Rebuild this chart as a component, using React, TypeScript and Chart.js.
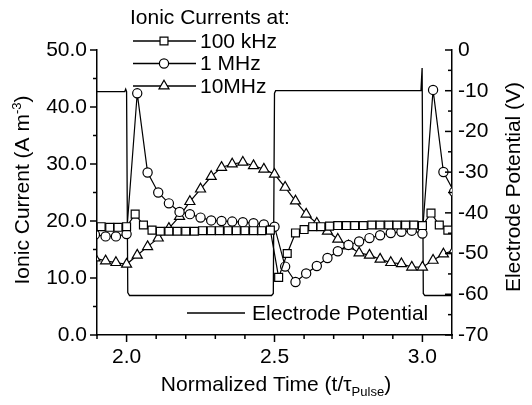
import React, { useEffect, useRef } from "react";
import { Chart, registerables } from "chart.js";

Chart.register(...registerables);

const FONT_FAMILY = "'Liberation Sans', Arial, Helvetica, sans-serif";
const FS = 21;

// ---- Data ----
// 100 kHz (squares): time and ionic current (A m^-3)
const t100kHz = [
  1.914, 1.943, 1.971, 2.0, 2.029, 2.057, 2.086, 2.114, 2.143, 2.171, 2.2, 2.229,
  2.257, 2.286, 2.314, 2.343, 2.371, 2.4, 2.429, 2.457, 2.486, 2.514, 2.543, 2.571,
  2.6, 2.629, 2.657, 2.686, 2.714, 2.743, 2.771, 2.8, 2.829, 2.857, 2.886, 2.914,
  2.943, 2.971, 3.0, 3.029, 3.057, 3.086,
];
const i100kHz = [
  19.0, 18.9, 18.9, 19.0, 21.2, 19.3, 18.4, 18.2, 18.2, 18.2, 18.2, 18.2, 18.3, 18.3,
  18.3, 18.3, 18.3, 18.3, 18.3, 18.3, 18.4, 10.1, 14.3, 17.9, 18.5, 19.0, 19.0, 19.1,
  19.2, 19.2, 19.2, 19.2, 19.3, 19.3, 19.3, 19.3, 19.3, 19.3, 19.2, 21.4, 19.3, 18.4,
];
// 1 MHz (circles) and 10 MHz (triangles) share a time base
const tMHz = [
  1.893, 1.929, 1.964, 2.0, 2.036, 2.071, 2.107, 2.143, 2.179, 2.214, 2.25, 2.286,
  2.321, 2.357, 2.393, 2.429, 2.464, 2.5, 2.536, 2.571, 2.607, 2.643, 2.679, 2.714,
  2.75, 2.786, 2.821, 2.857, 2.893, 2.929, 2.964, 3.0, 3.036, 3.071, 3.107,
];
const i1MHz = [
  17.6, 17.3, 17.3, 17.7, 42.4, 28.5, 25.0, 23.1, 21.6, 21.2, 20.6, 20.1, 20.0, 19.9,
  19.8, 19.6, 19.4, 19.0, 12.0, 9.3, 10.8, 12.1, 13.5, 14.7, 15.8, 16.4, 17.0, 17.5,
  17.9, 18.1, 18.3, 17.8, 43.0, 28.6, 25.1,
];
const i10MHz = [
  13.5, 13.0, 12.7, 12.4, 14.0, 15.5, 17.0, 18.7, 20.8, 23.4, 25.6, 27.8, 29.4, 30.0,
  30.3, 29.7, 29.1, 28.2, 25.9, 23.5, 21.2, 19.6, 18.2, 16.8, 15.6, 14.4, 14.0, 13.3,
  12.7, 12.5, 11.9, 11.9, 13.1, 14.2, 14.9,
];
// Electrode potential (V)
const tElectrode = [
  1.9, 1.994, 1.997, 2.0, 2.004, 2.01, 2.49, 2.496, 2.5, 2.504, 2.995, 2.999, 3.003,
  3.008, 3.1,
];
const vElectrode = [
  -10.2, -10.2, -9.6, -10.2, -59.6, -60.3, -60.3, -59.8, -10.6, -10.0, -10.0, -4.4,
  -59.8, -60.3, -60.3,
];

// ---- Axes ----
const xTickValues = [2.0, 2.5, 3.0];
const xTickLabels = ["2.0", "2.5", "3.0"];
const xMinorValues = [1.9, 2.1, 2.2, 2.3, 2.4, 2.6, 2.7, 2.8, 2.9, 3.1];
const yTickValues = [0, 10, 20, 30, 40, 50];
const yTickLabels = ["0.0", "10.0", "20.0", "30.0", "40.0", "50.0"];
const yMinorValues = [5, 15, 25, 35, 45];
const y2TickValues = [0, -10, -20, -30, -40, -50, -60, -70];
const y2TickLabels = ["0", "-10", "-20", "-30", "-40", "-50", "-60", "-70"];
const y2MinorValues = [-5, -15, -25, -35, -45, -55, -65];

const legendTitle = "Ionic Currents at:";
const seriesNames = ["100 kHz", "1 MHz", "10MHz"];
const seriesMarkers = ["rect", "circle", "triangle"];
const electrodeName = "Electrode Potential";

const markerRadius: Record<string, number> = { rect: 5.6, circle: 4.6, triangle: 5.8 };

function drawMarker(ctx: CanvasRenderingContext2D, style: string, x: number, y: number) {
  const r = markerRadius[style];
  ctx.beginPath();
  if (style === "rect") {
    const s = r * Math.SQRT1_2;
    ctx.rect(x - s, y - s, 2 * s, 2 * s);
  } else if (style === "circle") {
    ctx.arc(x, y, r, 0, Math.PI * 2);
  } else {
    const a = (2 * Math.PI) / 3;
    ctx.moveTo(x, y - r);
    ctx.lineTo(x + Math.sin(a) * r, y - Math.cos(a) * r);
    ctx.lineTo(x + Math.sin(2 * a) * r, y - Math.cos(2 * a) * r);
    ctx.closePath();
  }
  ctx.fillStyle = "#fff";
  ctx.fill();
  ctx.lineWidth = 1.2;
  ctx.strokeStyle = "#000";
  ctx.stroke();
}

type Part = { text: string; scale?: number; dy?: number };
function drawRich(ctx: CanvasRenderingContext2D, parts: Part[], x: number, y: number) {
  let total = 0;
  const widths = parts.map((p) => {
    ctx.font = `${FS * (p.scale || 1)}px ${FONT_FAMILY}`;
    const w = ctx.measureText(p.text).width;
    total += w;
    return w;
  });
  let cx = x - total / 2;
  ctx.textAlign = "left";
  ctx.textBaseline = "alphabetic";
  parts.forEach((p, i) => {
    ctx.font = `${FS * (p.scale || 1)}px ${FONT_FAMILY}`;
    ctx.fillText(p.text, cx, y + (p.dy || 0));
    cx += widths[i];
  });
}

const decorPlugin = {
  id: "decor",
  afterDraw(chart: any) {
    const ctx: CanvasRenderingContext2D = chart.ctx;
    const { x, y, y2 } = chart.scales;
    const area = chart.chartArea;
    ctx.save();
    ctx.strokeStyle = "#000";
    ctx.fillStyle = "#000";
    ctx.lineWidth = 1.5;
    // ticks
    const tick = (x1: number, y1: number, x2: number, y2p: number) => {
      ctx.beginPath();
      ctx.moveTo(x1, y1);
      ctx.lineTo(x2, y2p);
      ctx.stroke();
    };
    xTickValues.forEach((v) => {
      const px = x.getPixelForValue(v);
      tick(px, area.bottom, px, area.bottom + 7);
    });
    xMinorValues.forEach((v) => {
      const px = x.getPixelForValue(v);
      tick(px, area.bottom, px, area.bottom + 4);
    });
    yTickValues.forEach((v) => {
      const py = y.getPixelForValue(v);
      tick(area.left, py, area.left - 7, py);
    });
    yMinorValues.forEach((v) => {
      const py = y.getPixelForValue(v);
      tick(area.left, py, area.left - 4, py);
    });
    y2TickValues.forEach((v) => {
      const py = y2.getPixelForValue(v);
      tick(area.right, py, area.right - 7, py);
    });
    y2MinorValues.forEach((v) => {
      const py = y2.getPixelForValue(v);
      tick(area.right, py, area.right - 4, py);
    });

    // legend (ionic currents)
    ctx.font = `${FS}px ${FONT_FAMILY}`;
    ctx.textAlign = "left";
    ctx.textBaseline = "middle";
    ctx.fillText(legendTitle, 130, 18);
    const rows = [41, 63.5, 86];
    seriesNames.forEach((name, i) => {
      const ry = rows[i];
      ctx.lineWidth = 1.3;
      tick(133, ry, 196, ry);
      drawMarker(ctx, seriesMarkers[i], 164, ry);
      ctx.fillStyle = "#000";
      ctx.font = `${FS}px ${FONT_FAMILY}`;
      ctx.textBaseline = "middle";
      ctx.fillText(name, 200, ry + 1);
    });
    // legend (electrode)
    ctx.lineWidth = 1.3;
    tick(187, 313, 245, 313);
    ctx.fillText(electrodeName, 252, 314);

    // axis titles
    ctx.fillStyle = "#000";
    drawRich(
      ctx,
      [{ text: "Normalized Time (t/τ" }, { text: "Pulse", scale: 0.62, dy: 5 }, { text: ")" }],
      276,
      391
    );
    ctx.save();
    ctx.translate(29, 190);
    ctx.rotate(-Math.PI / 2);
    drawRich(ctx, [{ text: "Ionic Current (A m" }, { text: "-3", scale: 0.62, dy: -8 }, { text: ")" }], 0, 0);
    ctx.restore();
    ctx.save();
    ctx.translate(520, 187);
    ctx.rotate(-Math.PI / 2);
    drawRich(ctx, [{ text: "Electrode Potential (V)" }], 0, 0);
    ctx.restore();
    ctx.restore();
  },
};

const pts = (ts: number[], vs: number[]) => ts.map((t, i) => ({ x: t, y: vs[i] }));

export default function App() {
  const ref = useRef<HTMLCanvasElement | null>(null);
  useEffect(() => {
    if (!ref.current) return;
    const font = { family: FONT_FAMILY, size: FS };
    const chart = new Chart(ref.current, {
      type: "line",
      data: {
        datasets: [
          {
            label: seriesNames[0],
            data: pts(t100kHz, i100kHz),
            yAxisID: "y",
            borderColor: "#000",
            borderWidth: 1.2,
            pointStyle: "rect",
            pointRadius: markerRadius.rect,
            pointBorderWidth: 1.2,
            pointBackgroundColor: "#fff",
            pointBorderColor: "#000",
          },
          {
            label: seriesNames[1],
            data: pts(tMHz, i1MHz),
            yAxisID: "y",
            borderColor: "#000",
            borderWidth: 1.2,
            pointStyle: "circle",
            pointRadius: markerRadius.circle,
            pointBorderWidth: 1.2,
            pointBackgroundColor: "#fff",
            pointBorderColor: "#000",
          },
          {
            label: seriesNames[2],
            data: pts(tMHz, i10MHz),
            yAxisID: "y",
            borderColor: "#000",
            borderWidth: 1.2,
            pointStyle: "triangle",
            pointRadius: markerRadius.triangle,
            pointBorderWidth: 1.2,
            pointBackgroundColor: "#fff",
            pointBorderColor: "#000",
          },
          {
            label: electrodeName,
            data: pts(tElectrode, vElectrode),
            yAxisID: "y2",
            borderColor: "#000",
            borderWidth: 1.3,
            pointRadius: 0,
          },
        ],
      },
      options: {
        animation: false,
        responsive: false,
        devicePixelRatio: 1,
        layout: { padding: { top: 50, left: 0, right: 0, bottom: 0 } },
        plugins: { legend: { display: false }, tooltip: { enabled: false }, title: { display: false } },
        scales: {
          x: {
            type: "linear",
            min: 1.9,
            max: 3.1,
            afterBuildTicks: (s: any) => {
              s.ticks = xTickValues.map((v) => ({ value: v }));
            },
            afterFit: (s: any) => {
              s.height = 70;
            },
            ticks: {
              font,
              color: "#000",
              padding: 10,
              maxRotation: 0,
              autoSkip: false,
              callback: (v: any) => {
                const i = xTickValues.findIndex((t) => Math.abs(t - v) < 1e-6);
                return i >= 0 ? xTickLabels[i] : "";
              },
            },
            grid: { drawOnChartArea: false, drawTicks: false },
            border: { display: true, color: "#000", width: 1.5 },
          },
          y: {
            position: "left",
            min: 0,
            max: 50,
            afterBuildTicks: (s: any) => {
              s.ticks = yTickValues.map((v) => ({ value: v }));
            },
            afterFit: (s: any) => {
              s.width = 97;
            },
            ticks: {
              font,
              color: "#000",
              padding: 10,
              autoSkip: false,
              callback: (v: any) => {
                const i = yTickValues.indexOf(v);
                return i >= 0 ? yTickLabels[i] : "";
              },
            },
            grid: { drawOnChartArea: false, drawTicks: false },
            border: { display: true, color: "#000", width: 1.5 },
          },
          y2: {
            position: "right",
            min: -70,
            max: 0,
            afterBuildTicks: (s: any) => {
              s.ticks = y2TickValues.map((v) => ({ value: v }));
            },
            afterFit: (s: any) => {
              s.width = 80;
            },
            ticks: {
              font,
              color: "#000",
              padding: 6,
              autoSkip: false,
              callback: (v: any) => {
                const i = y2TickValues.indexOf(v);
                return i >= 0 ? y2TickLabels[i] : "";
              },
            },
            grid: { drawOnChartArea: false, drawTicks: false },
            border: { display: true, color: "#000", width: 1.5 },
          },
        },
      },
      plugins: [decorPlugin],
    } as any);
    return () => chart.destroy();
  }, []);
  return (
    <div style={{ position: "fixed", left: 0, top: 0, width: 532, height: 405, background: "#fff" }}>
      <canvas ref={ref} width={532} height={405} style={{ display: "block", width: 532, height: 405 }} />
    </div>
  );
}
